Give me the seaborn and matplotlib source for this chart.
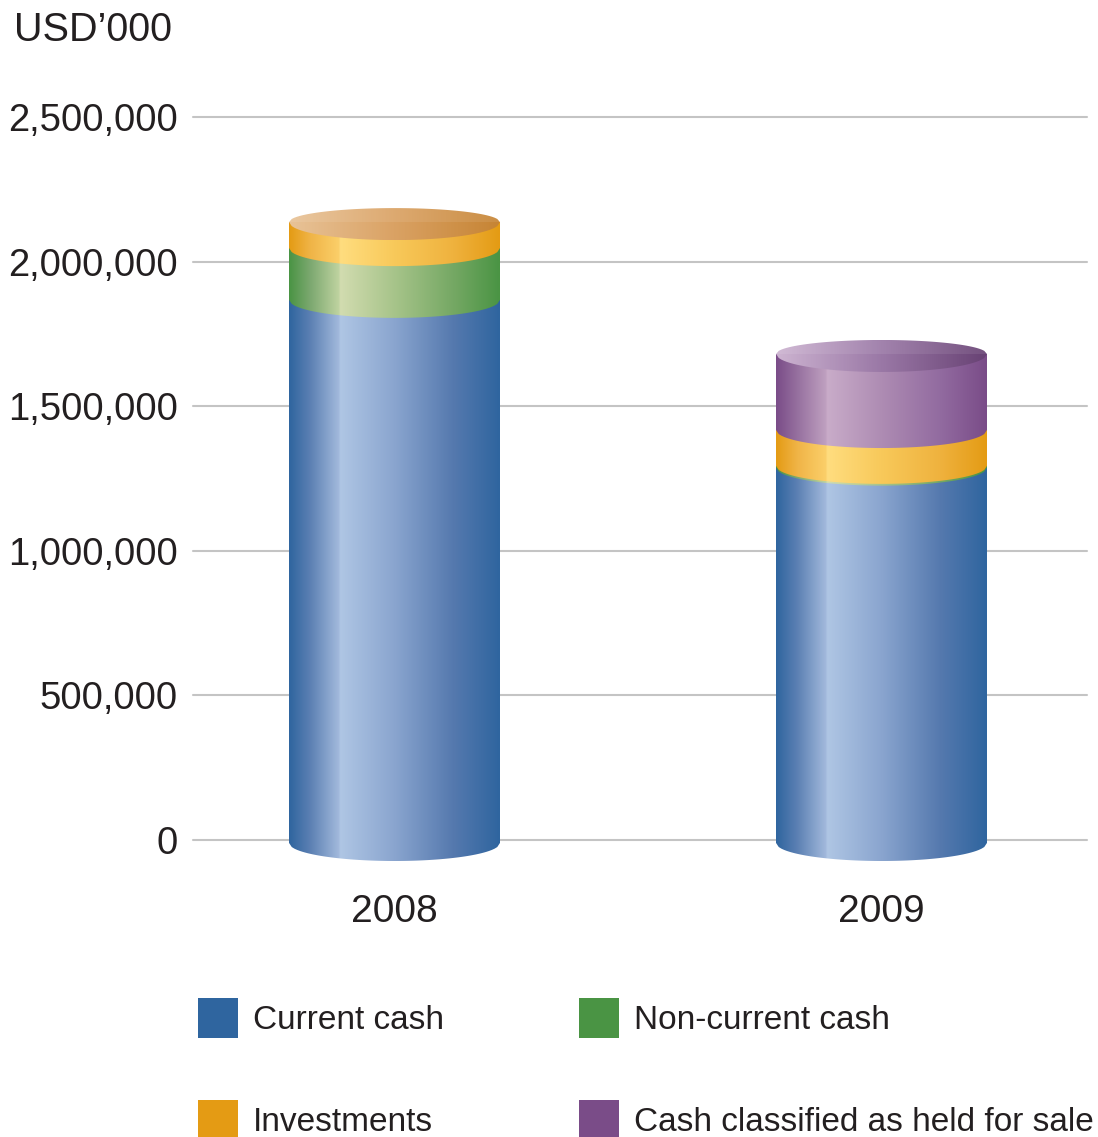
import numpy as np
import pandas as pd
import matplotlib
matplotlib.use("Agg")
import matplotlib.pyplot as plt
from matplotlib.colors import LinearSegmentedColormap
from matplotlib.patches import Patch
from matplotlib.path import Path
from matplotlib.transforms import Affine2D
import seaborn as sns

# USD'000 by component
years = ["2008", "2009"]
components = ["Current cash", "Non-current cash", "Investments", "Cash classified as held for sale"]
current_cash = [1878000, 1298000]
non_current_cash = [179000, 6000]
investments = [90000, 124000]
held_for_sale = [0, 263000]
y_ticks = [0, 500000, 1000000, 1500000, 2000000, 2500000]

base_colors = ["#2F659F", "#4A9444", "#E49B14", "#7A4C88"]
# left-to-right shading of each cylinder wall
wall_shades = [
    ["#2F659F", "#5C80B3", "#A2B9DC", "#AFC6E4", "#8AA5CF", "#5579AE", "#2F659F"],
    ["#4A9444", "#7CA870", "#BFD3A0", "#D2DCB0", "#A7C48A", "#75A864", "#4A9444"],
    ["#E49B14", "#F0B447", "#FBCF69", "#FFDD7F", "#F8C95A", "#EFB23E", "#E49B14"],
    ["#7A4C88", "#96709F", "#BFA0C0", "#C9ACC9", "#AE8CB3", "#926BA0", "#7A4C88"],
]
shade_stops = [0.0, 0.10, 0.236, 0.242, 0.5, 0.78, 1.0]
lid_shades = [
    ["#2F659F", "#5C80B3", "#2F659F"],
    ["#4A9444", "#7CA870", "#4A9444"],
    ["#E8C398", "#DAA264", "#C68434"],
    ["#CDB4D1", "#9A78A6", "#684274"],
]

W, H = 1098, 1137
TEXT = "#231F20"
FONT = "Liberation Sans"

sns.set_theme(style="white")
plt.rcParams["font.family"] = [FONT, "DejaVu Sans"]
plt.rcParams["text.color"] = TEXT

fig = plt.figure(figsize=(W / 100, H / 100), dpi=100)
ax = fig.add_axes([193 / W, (H - 840) / H, 894 / W, 723 / H])

series = [current_cash, non_current_cash, investments, held_for_sale]
frame = pd.DataFrame({
    "year": np.tile(years, len(components)),
    "component": np.repeat(components, len(years)),
    "value": np.concatenate(series),
})

XLIM = (-0.4138, 1.422)
YLIM = (0, 2500000)
BAR_WIDTH = 0.433
px_per_unit = 723 / (YLIM[1] - YLIM[0])
front_arc = 18 / px_per_unit   # front half of an ellipse, in data units
back_arc = 14 / px_per_unit    # back half of the top ellipse
drop = ax.transData + Affine2D().translate(0, -3)  # cylinders sit just under the baseline


def arc(x0, width, level, depth, n=80):
    """Half ellipse from the left wall to the right wall, bulging by depth."""
    t = np.linspace(-1, 1, n)
    return x0 + (t + 1) / 2 * width, level + depth * np.sqrt(1 - t ** 2)


def clipped_image(rgb, x0, width, low, high, xs, ys, zorder, interpolation="bilinear"):
    """Paint an RGB gradient on the data extent, cut to the closed outline xs, ys."""
    im = ax.imshow(rgb, extent=(x0, x0 + width, low, high), aspect="auto",
                   interpolation=interpolation, origin="upper", zorder=zorder)
    im.set_transform(drop)
    verts = np.column_stack([xs, ys])
    im.set_clip_path(Path(np.vstack([verts, verts[:1]]), closed=True), drop)
    im.set_clip_box(fig.bbox)
    return im


bottoms = np.zeros(len(years))
top_index = [0, 0]
for i, name in enumerate(components):
    before = len(ax.patches)
    sns.barplot(data=frame[frame["component"] == name], x="year", y="value", order=years,
                color=base_colors[i], saturation=1, width=BAR_WIDTH, errorbar=None,
                bottom=bottoms, ax=ax, zorder=3, linewidth=0, edgecolor="none")
    cmap = LinearSegmentedColormap.from_list(name, list(zip(shade_stops, wall_shades[i])))
    wall = cmap(np.linspace(0, 1, 512))[None, :, :3]
    for j, bar in enumerate(ax.patches[before:]):
        bar.set_transform(drop)
        bar.set_clip_on(False)
        if bar.get_height() <= 0:
            bar.set_visible(False)
            continue
        top_index[j] = i
        x0, w = bar.get_x(), bar.get_width()
        low, high = bar.get_y(), bar.get_y() + bar.get_height()
        xs, ys = arc(x0, w, low, -front_arc)
        clipped_image(wall, x0, w, low - front_arc * 1.1, high,
                      np.r_[xs, x0 + w, x0], np.r_[ys, high, high], zorder=3 + i * 0.1)
    bottoms = bottoms + np.asarray(series[i])

# lids of the cylinders
for j, level in enumerate(bottoms):
    i = top_index[j]
    x0 = j - BAR_WIDTH / 2
    lid_map = LinearSegmentedColormap.from_list("lid", lid_shades[i])
    strip = lid_map(np.linspace(0, 1, 512))[:, :3]
    rgb = np.repeat(np.stack([strip * 0.92 + 0.08, strip], axis=0), [14, 18], axis=0)
    xs_f, ys_f = arc(x0, BAR_WIDTH, level, -front_arc)
    xs_b, ys_b = arc(x0, BAR_WIDTH, level, back_arc)
    clipped_image(rgb, x0, BAR_WIDTH, level - front_arc, level + back_arc,
                  np.r_[xs_f, xs_b[::-1]], np.r_[ys_f, ys_b[::-1]], zorder=4,
                  interpolation="nearest")

ax.set_xlim(*XLIM)
ax.set_ylim(*YLIM)
ax.set_xlabel("")
ax.set_ylabel("")
sns.despine(ax=ax, left=True, bottom=True, top=True, right=True)
ax.set_yticks(y_ticks)
ax.set_yticklabels([f"{v:,}" for v in y_ticks])
ax.set_xticks(range(len(years)))
ax.set_xticklabels(years)
ax.tick_params(axis="y", length=0, pad=11, labelsize=27.5, labelcolor=TEXT)
ax.tick_params(axis="x", length=0, pad=39, labelsize=28, labelcolor=TEXT)
ax.yaxis.grid(True, color="#C4C4C4", linewidth=1.5, zorder=0)
for line in ax.get_ygridlines():
    line.set_clip_on(False)
ax.xaxis.grid(False)
ax.set_axisbelow(True)
ax.patch.set_visible(False)

fig.text(14 / W, 1 - 30 / H, "USD\u2019000", fontsize=28.5, ha="left", va="center", color=TEXT)

handles = [Patch(facecolor=c, edgecolor="none", label=n) for c, n in zip(base_colors, components)]
order = [0, 2, 1, 3]
fs = 24
em = fs * 100 / 72
fig.legend([handles[k] for k in order], [components[k] for k in order],
           ncol=2, frameon=False, fontsize=fs, loc="upper left",
           bbox_to_anchor=(198 / W, 1 - 998 / H), borderaxespad=0, borderpad=0,
           handlelength=40 / em, handleheight=1.469, handletextpad=15 / em,
           labelspacing=62 / em, columnspacing=135 / em, labelcolor=TEXT)

fig.savefig("out.png", dpi=100)
